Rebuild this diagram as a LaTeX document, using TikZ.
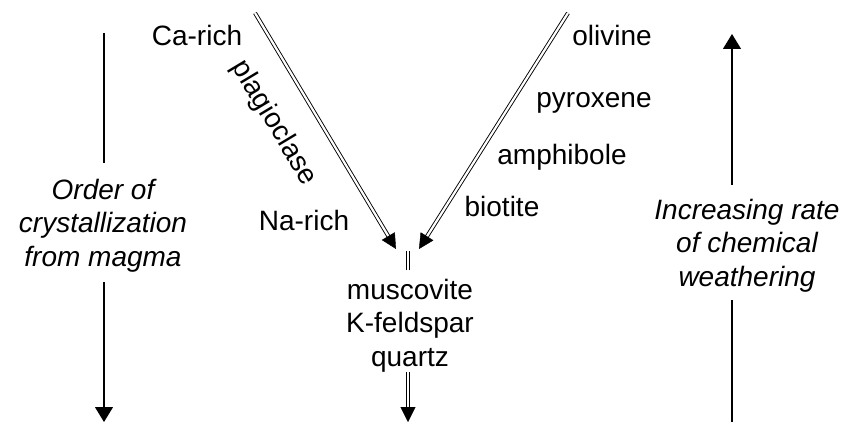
\documentclass[tikz,border=0pt]{standalone}
\usepackage{fontspec}
\setmainfont{Liberation Sans}
\usetikzlibrary{arrows.meta,calc}
\begin{document}
\begin{tikzpicture}[x=1pt,y=-1pt,
  lbl/.style={font=\fontsize{28}{33.5}\selectfont, inner sep=0pt, anchor=base, align=center},
  ilbl/.style={lbl, font=\fontsize{28}{33.5}\selectfont\itshape},
  dbl/.style={double, line width=0.9pt, double distance=2.2pt},
  sgl/.style={line width=1.2pt},
  sglarrow/.style={line width=1.2pt, -{Triangle[length=15pt,width=18pt]}},
  headtip/.style={line width=0.4pt, -{Triangle[length=15pt,width=15pt]}}
]
\useasboundingbox (0,0) rectangle (844,433);

% labels
\node[lbl] (carich) at (197,46) {Ca-rich};
\node[lbl] (narich) at (304,230) {Na-rich};
\node[font=\fontsize{28}{33.5}\selectfont, inner sep=0pt, rotate=-59] (plag) at (274,123) {plagioclase};
\node[lbl] (olivine) at (612,46) {olivine};
\node[lbl] (pyroxene) at (594,108) {pyroxene};
\node[lbl] (amphibole) at (562,165) {amphibole};
\node[lbl] (biotite) at (502,217) {biotite};
% base anchor of a multi-line node is the baseline of its last line
\node[lbl] (minerals) at (410,366) {muscovite\\K-feldspar\\quartz};
\node[ilbl] (order) at (103,266) {Order of\\crystallization\\from magma};
\node[ilbl] (weath) at (747,286) {Increasing rate\\of chemical\\weathering};

% diagonal double arrows
\coordinate (ltop) at (255,13);
\coordinate (ltip) at (396,249);
\coordinate (rtop) at (568,13);
\coordinate (rtip) at (419,249);
\draw[dbl] (ltop) -- ($(ltip)!14pt!(ltop)$);
\draw[headtip] ($(ltip)!13pt!(ltop)$) -- (ltip);
\draw[dbl] (rtop) -- ($(rtip)!14pt!(rtop)$);
\draw[headtip] ($(rtip)!13pt!(rtop)$) -- (rtip);

% middle double segments
\coordinate (m1) at (408,251);
\coordinate (m2) at (408,270);
\draw[dbl] (m1) -- (m2);
\coordinate (b1) at (408,372);
\coordinate (b2) at (408,422);
\draw[dbl] (b1) -- ($(b2)+(0,-13)$);
\draw[headtip] ($(b2)+(0,-12)$) -- (b2);

% left vertical arrow
\coordinate (lv1) at (104,33);
\coordinate (lv2) at (104,163);
\coordinate (lv3) at (104,282);
\coordinate (lv4) at (104,422);
\draw[sgl] (lv1) -- (lv2);
\draw[sglarrow] (lv3) -- (lv4);

% right vertical arrow
\coordinate (rv1) at (732,422);
\coordinate (rv2) at (732,300);
\coordinate (rv3) at (732,185);
\coordinate (rv4) at (732,34);
\draw[sgl] (rv1) -- (rv2);
\draw[sglarrow] (rv3) -- (rv4);
\end{tikzpicture}
\end{document}
